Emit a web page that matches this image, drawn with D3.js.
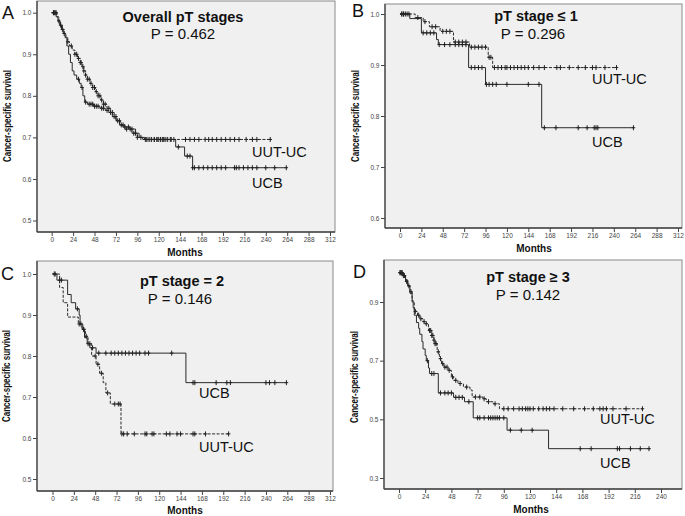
<!DOCTYPE html>
<html><head><meta charset="utf-8">
<script src="https://cdn.jsdelivr.net/npm/d3@7/dist/d3.min.js"></script>
<style>body{margin:0;background:#fff}svg{display:block}</style>
</head><body>
<svg id="chart" width="685" height="516"></svg>
<script>
// ---------- DATA ----------
const monthTicksFull = [0,24,48,72,96,120,144,168,192,216,240,264,288,312];
const monthTicksD = [0,24,48,72,96,120,144,168,192,216,240];
const survTicksA = [0.5,0.6,0.7,0.8,0.9,1.0];
const survTicksB = [0.6,0.7,0.8,0.9,1.0];
const survTicksC = [0.5,0.6,0.7,0.8,0.9,1.0];
const survTicksD = [0.3,0.5,0.7,0.9];

const panelTitles = ["Overall pT stages","pT stage \u2264 1","pT stage = 2","pT stage \u2265 3"];
const panelPValues = ["P = 0.462","P = 0.296","P = 0.146","P = 0.142"];
const panelLetters = ["A","B","C","D"];
const groupNames = ["UUT-UC","UCB"];

// KM steps: [month, survival after step]
const aUutSteps = [[0,1],[6,0.99],[8,0.98],[10,0.97],[12,0.96],[14,0.95],[16,0.94],[18,0.93],[20,0.92],[23,0.91],[26,0.90],[29,0.89],[32,0.88],[34,0.87],[36,0.86],[38,0.85],[40,0.84],[43,0.83],[46,0.82],[49,0.81],[52,0.80],[55,0.79],[58,0.78],[62,0.77],[66,0.76],[70,0.75],[73,0.74],[77,0.73],[82,0.72],[90,0.71],[96,0.70],[102,0.695]];
const aUutEnd = 245;
const aUutCens = [2,4,5,10,14,18,22,26,28,30,32,33,35,36,38,40,42,44,46,48,50,52,54,56,58,60,64,68,72,76,80,84,88,92,96,100,105,108,112,115,118,120,124,126,130,134,137,150,155,160,165,172,176,180,185,190,195,200,205,210,218,225,230,245];
const aUcbSteps = [[0,1],[5,0.99],[7,0.98],[9,0.97],[11,0.96],[13,0.95],[15,0.94],[17,0.92],[19,0.90],[21,0.88],[23,0.86],[25,0.85],[28,0.84],[31,0.83],[33,0.82],[35,0.80],[37,0.785],[40,0.78],[47,0.775],[54,0.77],[60,0.765],[64,0.76],[68,0.75],[72,0.74],[76,0.73],[80,0.725],[88,0.72],[94,0.71],[98,0.70],[104,0.695],[139,0.677],[149,0.655],[158,0.627]];
const aUcbEnd = 263;
const aUcbCens = [2,3,8,12,30,34,38,42,44,46,48,50,52,56,58,62,66,70,74,78,82,86,90,94,106,110,115,118,122,125,128,133,142,152,155,158,160,165,170,175,180,185,190,195,205,207,210,215,220,225,230,240,250,263];

const bUutSteps = [[0,1],[17,0.993],[26,0.985],[33,0.975],[45,0.966],[60,0.945],[78,0.935],[99,0.915],[104,0.895]];
const bUutEnd = 243;
const bUutCens = [2,4,6,10,20,28,36,40,48,52,56,62,66,70,74,80,84,88,92,96,100,102,106,110,114,118,120,124,128,132,136,140,144,150,156,162,176,180,190,200,208,216,220,230,243];
const bUcbSteps = [[0,1],[11,0.991],[24,0.963],[41,0.95],[43,0.94],[77,0.895],[96,0.862],[159,0.777]];
const bUcbEnd = 262;
const bUcbCens = [2,4,8,26,30,34,38,44,50,56,62,66,70,74,80,84,88,92,97,100,104,108,120,144,156,162,175,200,210,218,220,222,262];

const cUcbSteps = [[0,1],[5,0.985],[17,0.95],[21,0.93],[26,0.915],[30,0.90],[31,0.878],[34,0.865],[36,0.845],[39,0.83],[42,0.82],[49,0.807],[150,0.735]];
const cUcbEnd = 263;
const cUcbCens = [2,8,10,28,32,35,40,45,52,60,66,70,74,78,82,86,90,94,98,104,108,134,158,160,184,196,200,240,244,250,263];
const cUutSteps = [[0,1],[8,0.967],[12,0.93],[17,0.895],[29,0.878],[33,0.865],[37,0.848],[40,0.83],[44,0.80],[49,0.78],[53,0.758],[57,0.735],[60,0.71],[65,0.683],[77,0.61]];
const cUutEnd = 198;
const cUutCens = [3,30,35,38,42,48,51,55,62,70,74,76,78,80,84,92,104,106,112,114,128,132,140,144,158,160,172,198];

const dUcbSteps = [[0,1],[3,0.99],[6,0.975],[8,0.955],[10,0.93],[12,0.905],[13,0.88],[14,0.855],[16,0.83],[18,0.81],[19,0.79],[21,0.765],[22,0.74],[24,0.718],[25,0.70],[27,0.675],[28,0.656],[36,0.59],[50,0.575],[60,0.56],[68,0.505],[99,0.463],[137,0.40]];
const dUcbEnd = 230;
const dUcbCens = [1,2,4,26,30,32,38,42,45,48,52,55,58,64,72,74,78,82,84,86,88,90,92,96,102,112,122,166,176,200,202,212,221,229];
const dUutSteps = [[0,1],[4,0.99],[6,0.97],[8,0.955],[10,0.935],[12,0.90],[14,0.868],[17,0.855],[19,0.843],[22,0.833],[24,0.826],[27,0.803],[30,0.786],[32,0.77],[33,0.758],[35,0.73],[37,0.707],[39,0.69],[41,0.678],[45,0.667],[48,0.645],[50,0.633],[54,0.622],[59,0.61],[65,0.60],[67,0.576],[77,0.57],[80,0.56],[86,0.553],[92,0.536]];
const dUutEnd = 223;
const dUutCens = [1,2,3,5,7,9,11,15,18,20,23,25,28,29,30,31,32,33,34,36,38,40,42,44,46,49,52,56,62,70,74,78,82,88,96,100,105,110,113,116,118,120,123,128,132,135,138,142,150,160,170,178,184,187,190,196,208,223];

// ---------- LAYOUT ----------
const FONT = "'Liberation Sans', Arial, sans-serif";
const panels = [
  {frame:[37,1,335,232], xd:[0,312], xr:[51.7,330], yd:[0.5,1.0], yr:[220.5,12.7], xt:monthTicksFull, yt:survTicksA,
   uut:[aUutSteps,aUutEnd,aUutCens], ucb:[aUcbSteps,aUcbEnd,aUcbCens],
   title:[183,22], p:[183,39], letter:[2,19], ylab:[10.5,116], months:[185,256], lUut:[252,157], lUcb:[252,188]},
  {frame:[385,4,682,228], xd:[0,312], xr:[400,678], yd:[0.6,1.0], yr:[218,14], xt:monthTicksFull, yt:survTicksB,
   uut:[bUutSteps,bUutEnd,bUutCens], ucb:[bUcbSteps,bUcbEnd,bUcbCens],
   title:[536,21], p:[533,39], letter:[352,17], ylab:[359,116], months:[534,252], lUut:[592,84], lUcb:[592,147]},
  {frame:[37,261,333,491], xd:[0,312], xr:[52.5,330], yd:[0.5,1.0], yr:[479,274], xt:monthTicksFull, yt:survTicksC,
   uut:[cUutSteps,cUutEnd,cUutCens], ucb:[cUcbSteps,cUcbEnd,cUcbCens],
   title:[182,286], p:[180,304], letter:[1,280], ylab:[9.5,376], months:[185,514], lUut:[199,452], lUcb:[199,398]},
  {frame:[384,260,682,489], xd:[0,240], xr:[399,661], yd:[0.3,0.9], yr:[478,302], xt:monthTicksD, yt:survTicksD,
   uut:[dUutSteps,dUutEnd,dUutCens], ucb:[dUcbSteps,dUcbEnd,dUcbCens],
   title:[528,282], p:[528,300], letter:[353,278], ylab:[357.5,377], months:[531,513], lUut:[600,424], lUcb:[600,468]}
];

const svg = d3.select("#chart");

function survAt(steps, t){ let s = steps[0][1]; for (const [ti,si] of steps) if (ti <= t) s = si; return s; }

panels.forEach((P, i) => {
  const g = svg.append("g");
  const [fx0, fy0, fx1, fy1] = P.frame;
  const x = d3.scaleLinear().domain(P.xd).range(P.xr);
  const y = d3.scaleLinear().domain(P.yd).range(P.yr);

  g.append("rect").attr("x",fx0).attr("y",fy0).attr("width",fx1-fx0).attr("height",fy1-fy0)
    .attr("fill","#f0f0f0").attr("stroke","#8a8a8a").attr("stroke-width",1);

  // axes
  const yAxis = d3.axisLeft(y).tickValues(P.yt).tickFormat(d3.format(".1f")).tickSize(4).tickPadding(1.5);
  const ya = g.append("g").attr("transform",`translate(${fx0},0)`).call(yAxis);
  const xAxis = d3.axisBottom(x).tickValues(P.xt).tickFormat(d3.format("d")).tickSize(4).tickPadding(1.5);
  const xa = g.append("g").attr("transform",`translate(0,${fy1})`).call(xAxis);
  [ya,xa].forEach(a => {
    a.select(".domain").remove();
    a.selectAll(".tick line").attr("stroke","#444").attr("stroke-width",1);
    a.selectAll(".tick text").attr("fill","#444").style("font-family",FONT).style("font-size","6.5px");
  });
  g.append("line").attr("x1",fx0).attr("x2",fx0).attr("y1",fy0).attr("y2",fy1).attr("stroke","#444").attr("stroke-width",1.3);
  g.append("line").attr("x1",fx0).attr("x2",fx1).attr("y1",fy1).attr("y2",fy1).attr("stroke","#444").attr("stroke-width",1.3);

  // curves
  const line = d3.line().x(d => x(d[0])).y(d => y(d[1])).curve(d3.curveStepAfter);
  const drawCurve = (spec, dashed) => {
    const [steps, end, cens] = spec;
    const pts = steps.concat([[end, steps[steps.length-1][1]]]);
    g.append("path").attr("d", line(pts)).attr("fill","none").attr("stroke","#2a2a2a")
      .attr("stroke-width",1).attr("stroke-dasharray", dashed ? "3,1.5" : null);
    cens.forEach(t => {
      const cx = x(t), cy = y(survAt(steps, t));
      g.append("line").attr("x1",cx).attr("x2",cx).attr("y1",cy-2.5).attr("y2",cy+2.5).attr("stroke","#222").attr("stroke-width",1);
      g.append("line").attr("x1",cx-1.8).attr("x2",cx+1.8).attr("y1",cy).attr("y2",cy).attr("stroke","#222").attr("stroke-width",1);
    });
  };
  drawCurve(P.ucb, false);
  drawCurve(P.uut, true);

  // texts
  g.append("text").attr("x",P.title[0]).attr("y",P.title[1]).attr("text-anchor","middle")
    .style("font-family",FONT).style("font-size","14.5px").style("font-weight","bold").attr("fill","#111").text(panelTitles[i]);
  g.append("text").attr("x",P.p[0]).attr("y",P.p[1]).attr("text-anchor","middle")
    .style("font-family",FONT).style("font-size","15px").attr("fill","#111").text(panelPValues[i]);
  g.append("text").attr("x",P.letter[0]).attr("y",P.letter[1])
    .style("font-family",FONT).style("font-size","18px").attr("fill","#111").text(panelLetters[i]);
  g.append("text").attr("transform",`translate(${P.ylab[0]},${P.ylab[1]}) rotate(-90)`).attr("text-anchor","middle")
    .attr("textLength",92).attr("lengthAdjust","spacingAndGlyphs")
    .style("font-family",FONT).style("font-size","10px").style("font-weight","bold").attr("fill","#111").text("Cancer-specific survival");
  g.append("text").attr("x",P.months[0]).attr("y",P.months[1]).attr("text-anchor","middle")
    .style("font-family",FONT).style("font-size","10px").style("font-weight","bold").attr("fill","#111").text("Months");
  g.append("text").attr("x",P.lUut[0]).attr("y",P.lUut[1])
    .style("font-family",FONT).style("font-size","14.5px").attr("fill","#111").text(groupNames[0]);
  g.append("text").attr("x",P.lUcb[0]).attr("y",P.lUcb[1])
    .style("font-family",FONT).style("font-size","14.5px").attr("fill","#111").text(groupNames[1]);
});
</script>
</body></html>
